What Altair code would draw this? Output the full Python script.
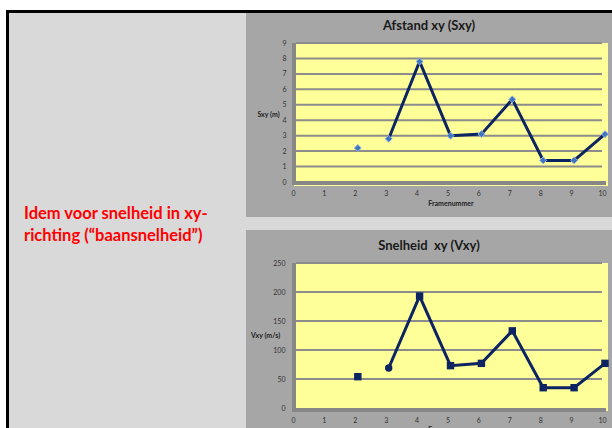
import altair as alt
import pandas as pd

# Frame numbers and the measured path distance / path speed per frame
frames = [2, 3, 4, 5, 6, 7, 8, 9, 10]
sxy = [2.2, 2.8, 7.8, 3.0, 3.1, 5.35, 1.4, 1.4, 3.1]
vxy = [54, 69, 193, 73, 77, 133, 35, 35, 77]
vxy_markers = ["square", "circle", "square", "square", "square",
               "square", "square", "square", "square"]
first_linked_frame = 3  # the line starts here; frame 2 is a loose point

frame_ticks = list(range(0, 11))
sxy_ticks = list(range(0, 10))
vxy_ticks = [0, 50, 100, 150, 200, 250]

title_top = "Afstand xy (Sxy)"
title_bottom = "Snelheid\u00a0\u00a0xy (Vxy)"
note_lines = ["Idem voor snelheid in xy-", "richting (\u201cbaansnelheid\u201d)"]

FONT = "Lato"
NAVY = "#0c2461"
YELLOW = "#ffff99"
PANEL = "#a6a6a6"
SLIDE = "#d9d9d9"
WALL = "#878787"
GRID = "#8c8c8c"

df = pd.DataFrame({"frame": frames, "sxy": sxy, "vxy": vxy, "marker": vxy_markers})
linked = df[df["frame"] >= first_linked_frame]
one = pd.DataFrame({"k": [0]})

# Pixel placement of the two plot areas inside the 612x428 canvas
sx = alt.Scale(domain=[0, 10], range=[296, 605], nice=False, zero=False)
sy_top = alt.Scale(domain=[0, 9], range=[182, 43], nice=False)
sy_bot = alt.Scale(domain=[0, 250], range=[408, 263], nice=False)


def box(x1, x2, y1, y2, color):
    return alt.Chart(one).mark_rect(color=color).encode(
        x=alt.value(x1), x2=alt.value(x2), y=alt.value(y1), y2=alt.value(y2)
    )


def label(text, x, y, size, color, weight="bold", align="center", baseline="middle", **kw):
    return alt.Chart(one).mark_text(
        text=text, font=FONT, fontSize=size, fontWeight=weight, color=color,
        align=align, baseline=baseline, **kw
    ).encode(x=alt.value(x), y=alt.value(y))


def x_axis(offset, pad, title_pad):
    return alt.Axis(
        orient="bottom", offset=offset, values=frame_ticks, domain=False, ticks=False,
        grid=False, zindex=1, labelFont=FONT, labelFontSize=7, labelColor="#333333",
        labelPadding=pad, labelOffset=-3, labelFlush=False, labelOverlap=False,
        title="Framenummer", titleFont=FONT, titleFontSize=7, titleFontWeight="bold",
        titleColor="#222222", titlePadding=title_pad,
    )


def y_axis(ticks, title, title_x, title_y, pad):
    return alt.Axis(
        orient="left", offset=-296, values=ticks, domain=False, ticks=False, grid=False,
        zindex=1, labelFont=FONT, labelFontSize=7, labelColor="#333333", labelPadding=pad,
        labelFlush=False, labelOverlap=False,
        title=title, titleFont=FONT, titleFontSize=7, titleFontWeight="bold",
        titleColor="#222222", titleAngle=0, titleAlign="center", titleBaseline="middle",
        titleX=title_x, titleY=title_y,
    )


layers = [
    # slide frame and panels
    box(9, 612, 13, 428, SLIDE),
    box(6, 9, 10, 428, "#000000"),
    box(6, 612, 10, 13, "#000000"),
    box(246, 612, 13, 217, PANEL),
    box(246, 612, 230, 428, PANEL),
    # plot areas with wall and floor
    box(294, 608, 43, 186, YELLOW),
    box(292, 296, 43, 185, WALL),
    box(292, 606, 181, 185, WALL),
    box(294, 608, 263, 411, YELLOW),
    box(292, 296, 263, 412, WALL),
    box(292, 606, 408, 412, WALL),
]

grid_top = alt.Chart(pd.DataFrame({"v": sxy_ticks[1:]})).mark_rule(
    color=GRID, strokeWidth=2
).encode(x=alt.value(296), x2=alt.value(602), y=alt.Y("v:Q", scale=sy_top, axis=None))

grid_bot = alt.Chart(pd.DataFrame({"v": vxy_ticks[1:]})).mark_rule(
    color=GRID, strokeWidth=2
).encode(x=alt.value(296), x2=alt.value(602), y=alt.Y("v:Q", scale=sy_bot, axis=None))

line_top = alt.Chart(linked).mark_line(color=NAVY, strokeWidth=3).encode(
    x=alt.X("frame:Q", scale=sx, axis=None),
    y=alt.Y("sxy:Q", scale=sy_top, axis=None),
)
pts_top = alt.Chart(df).mark_point(
    shape="diamond", filled=True, size=48, fill="#3f74c0", stroke="#8fb3e3",
    strokeWidth=1, opacity=1
).encode(
    x=alt.X("frame:Q", scale=sx, axis=x_axis(-246, 7, 3)),
    y=alt.Y("sxy:Q", scale=sy_top, axis=y_axis(sxy_ticks, "Sxy (m)", -28, 114, 10)),
)

line_bot = alt.Chart(linked).mark_line(color=NAVY, strokeWidth=3).encode(
    x=alt.X("frame:Q", scale=sx, axis=None),
    y=alt.Y("vxy:Q", scale=sy_bot, axis=None),
)
pts_bot = alt.Chart(df).mark_point(filled=True, size=55, color=NAVY, opacity=1).encode(
    x=alt.X("frame:Q", scale=sx, axis=x_axis(-20, 8, 2)),
    y=alt.Y("vxy:Q", scale=sy_bot, axis=y_axis(vxy_ticks, "Vxy (m/s)", -31, 335, 11)),
    shape=alt.Shape("marker:N", scale=None, legend=None),
)

layers += [
    grid_top, line_top, pts_top,
    grid_bot, line_bot, pts_bot,
    label(title_top, 429, 26, 13, "#1a1a1a"),
    label(title_bottom, 429, 246, 13, "#1a1a1a"),
    label(note_lines, 24, 219, 16.5, "#ff0000", align="left", baseline="alphabetic", lineHeight=22),
]

chart = (
    alt.layer(*layers)
    .resolve_scale(x="independent", y="independent")
    .properties(
        width=612, height=428, padding=0,
        autosize=alt.AutoSizeParams(type="none"), background="white",
    )
    .configure_view(strokeWidth=0)
)

chart.save("out.html", embed_options={"renderer": "svg", "actions": False})
